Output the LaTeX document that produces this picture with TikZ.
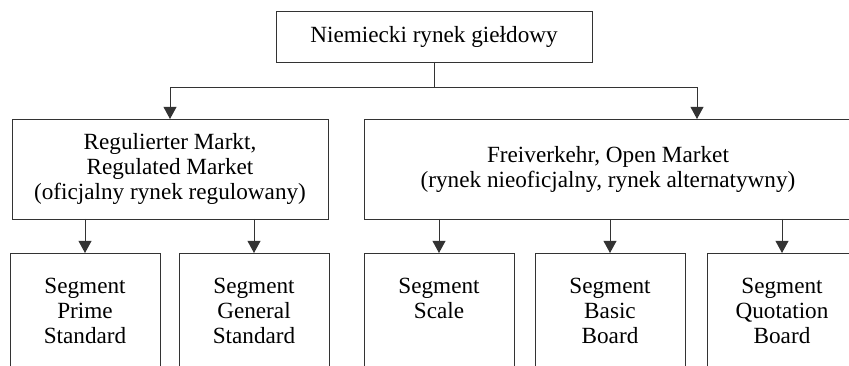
\documentclass[tikz,border=0pt]{standalone}
\usepackage{fontspec}
\setmainfont{Liberation Serif}
\usetikzlibrary{arrows.meta,calc}

\begin{document}
\begin{tikzpicture}[x=0.25mm,y=-0.25mm,
	box/.style={draw=black!80, line width=0.7pt, inner sep=0pt, outer sep=0pt,
		align=center, font=\fontsize{16.5}{17.8}\selectfont},
	segbox/.style={box, minimum width=37.5mm, minimum height=29mm},
	link/.style={draw=black!80, line width=0.7pt, -{Triangle[length=3mm,width=3.2mm]}}]
	\useasboundingbox (0,0) rectangle (849,366);
	\clip (0,0) rectangle (849,366);
	% top level
	\node[box, minimum width=79mm, minimum height=12.75mm] (top) at (434,36.5) {Niemiecki rynek giełdowy};
	% the two markets
	\node[box, minimum width=79mm, minimum height=25mm] (reg) at (170,169)
		{Regulierter Markt,\\Regulated Market\\(oficjalny rynek regulowany)};
	\node[box, minimum width=122mm, minimum height=25mm] (free) at (608,169)
		{Freiverkehr, Open Market\\(rynek nieoficjalny, rynek alternatywny)};
	% segments
	\node[segbox] (prime) at (85,311) {Segment\\Prime\\Standard};
	\node[segbox] (general) at (254,311) {Segment\\General\\Standard};
	\node[segbox] (scale) at (439,311) {Segment\\Scale\\\mbox{}};
	\node[segbox] (basic) at (610,311) {Segment\\Basic\\Board};
	\node[segbox] (quote) at (782,311) {Segment\\Quotation\\Board};
	% connectors
	\coordinate (fork) at (434,87);
	\draw[draw=black!80, line width=0.7pt] (top) -- (fork);
	\draw[link] (fork) -| (reg);
	\draw[link] (fork) -| ($(free.north west)+(333,0)$);
	\foreach \seg/\up in {prime/reg, general/reg, scale/free, basic/free, quote/free}
		\draw[link] (\seg |- \up.south) -- (\seg);
\end{tikzpicture}
\end{document}
